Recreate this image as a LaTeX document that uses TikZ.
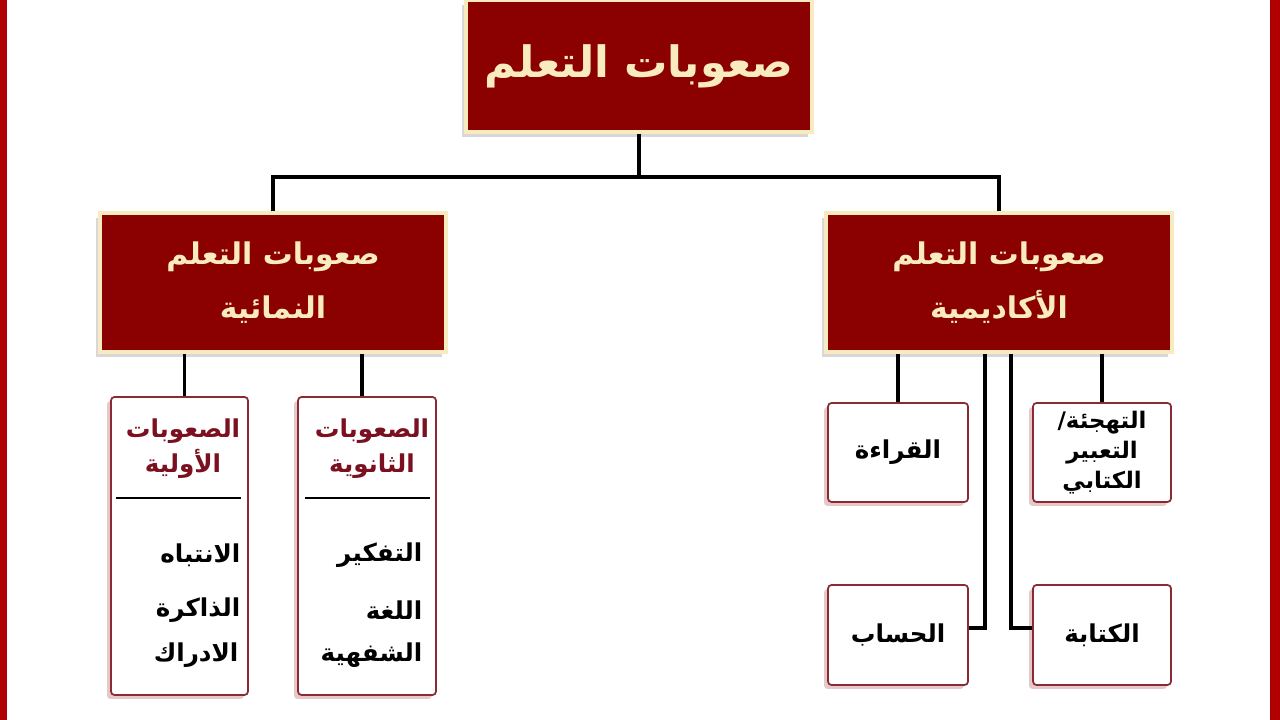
\documentclass[tikz,border=0pt]{standalone}
\usepackage{fontspec}
\newfontfamily\arabicfont[Script=Arabic]{DejaVu Sans}
\TeXXeTstate=1
\usetikzlibrary{shadows}
\definecolor{barred}{HTML}{B00000}
\definecolor{boxred}{HTML}{8B0000}
\definecolor{cream}{HTML}{F8EBC0}
\definecolor{headred}{HTML}{7A1020}
\definecolor{subedge}{HTML}{8A2A35}

\begin{document}
\begin{tikzpicture}[
		mainbox/.style={shape=rectangle, fill=boxred, draw=cream, line width=0.9pt, text=cream, font=\arabicfont\bfseries, align=center, inner sep=1pt, drop shadow={shadow xshift=-0.04cm, shadow yshift=-0.05cm, opacity=0.3}},
		subbox/.style={shape=rectangle, fill=white, draw=subedge, line width=0.5pt, rounded corners=1pt, drop shadow={shadow xshift=-0.04cm, shadow yshift=-0.04cm, fill=red!40!gray, opacity=0.3}},
		wire/.style={draw=black, line width=0.9pt},
		headtext/.style={text=headred, font=\arabicfont\bfseries\fontsize{7}{10}\selectfont, align=center, inner sep=0pt},
		itemtext/.style={text=black, font=\arabicfont\bfseries\fontsize{7}{9}\selectfont, anchor=east, inner sep=0pt},
		celltext/.style={text=black, font=\arabicfont\bfseries\fontsize{7}{9.5}\selectfont, align=center}
	]
		% Paths, nodes and wires:
		\useasboundingbox (0, 0) rectangle (12.8, 7.2);
		\fill[white] (0, 0) rectangle (12.8, 7.2);
		\fill[barred] (0, 0) rectangle (0.07, 7.2);
		\fill[barred] (12.7, 0) rectangle (12.8, 7.2);
		\node[mainbox, minimum width=3.46cm, minimum height=1.32cm, font=\arabicfont\bfseries\fontsize{12.3}{15}\selectfont] (top) at (6.39, 6.54){\beginR صعوبات التعلم\endR};
		\node[mainbox, minimum width=3.46cm, minimum height=1.39cm, font=\arabicfont\bfseries\fontsize{8.5}{15.5}\selectfont] (dev) at (2.73, 4.375){\beginR صعوبات التعلم\endR\\\beginR النمائية\endR};
		\node[mainbox, minimum width=3.46cm, minimum height=1.39cm, font=\arabicfont\bfseries\fontsize{8.5}{15.5}\selectfont] (acad) at (9.99, 4.375){\beginR صعوبات التعلم\endR\\\beginR الأكاديمية\endR};
		\coordinate (split) at (6.39, 5.43);
		\draw[wire] (top.south) -- (split);
		\draw[wire] (dev.north) |- (split) -| (acad.north);
		% developmental side
		\node[subbox, minimum width=1.37cm, minimum height=2.98cm] (prim) at (1.795, 1.74){};
		\node[subbox, minimum width=1.38cm, minimum height=2.98cm] (sec) at (3.67, 1.74){};
		\draw[wire] ([xshift=0.05cm]prim.north) -- ([xshift=0.05cm]prim.north |- dev.south);
		\draw[wire] ([xshift=-0.05cm]sec.north) -- ([xshift=-0.05cm]sec.north |- dev.south);
		\draw[line width=0.7pt] (1.16, 2.22) -- (2.41, 2.22);
		\draw[line width=0.7pt] (3.05, 2.22) -- (4.30, 2.22);
		\node[headtext] (primhead) at (1.83, 2.71){\beginR الصعوبات\endR\\\beginR الأولية\endR};
		\node[headtext] (sechead) at (3.72, 2.71){\beginR الصعوبات\endR\\\beginR الثانوية\endR};
		\node[itemtext] (att) at (2.41, 1.65){\beginR الانتباه\endR};
		\node[itemtext] (mem) at (2.41, 1.10){\beginR الذاكرة\endR};
		\node[itemtext] (perc) at (2.39, 0.65){\beginR الادراك\endR};
		\node[itemtext] (think) at (4.23, 1.65){\beginR التفكير\endR};
		\node[itemtext] (lang) at (4.23, 1.10){\beginR اللغة\endR};
		\node[itemtext] (oral) at (4.23, 0.65){\beginR الشفهية\endR};
		% academic side
		\node[subbox, celltext, minimum width=1.40cm, minimum height=0.99cm] (read) at (8.98, 2.675){\beginR القراءة\endR};
		\node[subbox, celltext, minimum width=1.38cm, minimum height=0.99cm, inner sep=1pt, font=\arabicfont\bfseries\fontsize{6.5}{8.5}\selectfont] (spell) at (11.02, 2.675){\beginR التهجئة/\endR\\\beginR التعبير\endR\\\beginR الكتابي\endR};
		\node[subbox, celltext, minimum width=1.40cm, minimum height=1.0cm] (arith) at (8.98, 0.85){\beginR الحساب\endR};
		\node[subbox, celltext, minimum width=1.38cm, minimum height=1.0cm] (write) at (11.02, 0.85){\beginR الكتابة\endR};
		\draw[wire] (read.north) -- (read.north |- acad.south);
		\draw[wire] (spell.north) -- (spell.north |- acad.south);
		\draw[wire] ([yshift=0.07cm]arith.east) -| ([xshift=-0.14cm]acad.south);
		\draw[wire] ([yshift=0.07cm]write.west) -| ([xshift=0.12cm]acad.south);
	\end{tikzpicture}
\end{document}
